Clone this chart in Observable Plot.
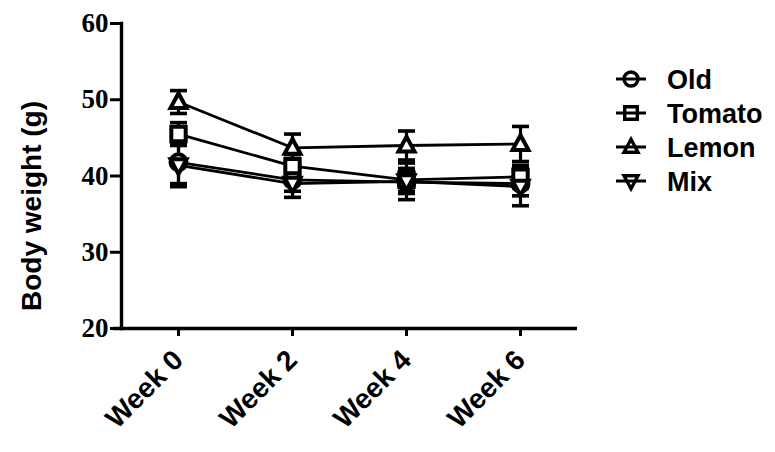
<!DOCTYPE html>
<html><head><meta charset="utf-8">
<script src="https://cdn.jsdelivr.net/npm/d3@7"></script>
<script src="https://cdn.jsdelivr.net/npm/@observablehq/plot@0.6"></script>
<style>
body{margin:0;background:#fff;}
#wrap{position:relative;width:775px;height:452px;overflow:hidden;}
#legend{position:absolute;left:0;top:0;}
</style></head><body><div id="wrap"></div>
<script>
// ---- data ----
const weeks = ["Week 0", "Week 2", "Week 4", "Week 6"];
const seriesNames = ["Old", "Tomato", "Lemon", "Mix"];
const oldMean = [41.8, 39.5, 39.2, 39.0];
const oldErr = [2.8, 1.5, 1.5, 1.6];
const tomatoMean = [45.5, 41.3, 39.5, 39.9];
const tomatoErr = [1.5, 1.5, 1.5, 1.5];
const lemonMean = [49.7, 43.7, 44.0, 44.2];
const lemonErr = [1.5, 1.8, 1.9, 2.3];
const mixMean = [41.4, 39.0, 39.3, 38.6];
const mixErr = [2.8, 1.8, 2.4, 2.5];
const yTicks = [20, 30, 40, 50, 60];

const means = [oldMean, tomatoMean, lemonMean, mixMean];
const errs = [oldErr, tomatoErr, lemonErr, mixErr];
const rows = [];
seriesNames.forEach((s, i) => weeks.forEach((w, j) => rows.push({
  series: s, week: w, mean: means[i][j], lo: means[i][j] - errs[i][j], hi: means[i][j] + errs[i][j]
})));
const caps = rows.flatMap(d => [{series: d.series, week: d.week, y: d.lo}, {series: d.series, week: d.week, y: d.hi}]);

// ---- custom symbols ----
const rad = size => Math.sqrt(size / Math.PI);
const symCircle = {draw(c, size){ const r = rad(size); c.moveTo(r, 0); c.arc(0, 0, r, 0, 2 * Math.PI); c.closePath(); }};
const symSquare = {draw(c, size){ const s = rad(size) * 0.9; c.rect(-s, -s, 2 * s, 2 * s); }};
const symTriUp = {draw(c, size){ const r = rad(size); c.moveTo(0, -1.1 * r); c.lineTo(1.0 * r, 0.75 * r); c.lineTo(-1.0 * r, 0.75 * r); c.closePath(); }};
const symTriDown = {draw(c, size){ const r = rad(size); c.moveTo(0, 1.1 * r); c.lineTo(1.0 * r, -0.75 * r); c.lineTo(-1.0 * r, -0.75 * r); c.closePath(); }};
const symCap = {draw(c, size){ const r = rad(size); c.moveTo(-r, 0); c.lineTo(r, 0); }};
const symbolRange = [symCircle, symSquare, symTriUp, symTriDown];

const chart = Plot.plot({
  width: 775,
  height: 452,
  marginLeft: 121,
  marginRight: 198,
  marginTop: 23,
  marginBottom: 124,
  style: {background: "#fff", color: "#000"},
  x: {type: "point", domain: weeks, padding: 0.5, label: null},
  y: {domain: [20, 60], label: null},
  symbol: {domain: seriesNames, range: symbolRange},
  marks: [
    Plot.ruleY([20], {strokeWidth: 3.4, insetLeft: -8}),
    Plot.frame({anchor: "left", strokeWidth: 3.4}),
    Plot.axisY({ticks: yTicks, tickSize: 11, tickPadding: 2, strokeWidth: 3, fontSize: 27, fontWeight: "bold", fontFamily: "Liberation Serif", label: null}),
    Plot.axisX({tickSize: 8, tickPadding: 0, strokeWidth: 3, label: null, text: null}),
    Plot.axisX({tickSize: 0, tickPadding: 27, dx: 0, tickRotate: -45, fontSize: 28, fontWeight: "bold", fontFamily: "Liberation Sans", label: null}),
    Plot.text(["Body weight (g)"], {frameAnchor: "left", textAnchor: "middle", rotate: -90, dx: -89, dy: 30, fontSize: 28, fontWeight: "bold", fontFamily: "Liberation Sans", fill: "#000"}),
    Plot.line(rows, {x: "week", y: "mean", z: "series", stroke: "#000", strokeWidth: 2.8}),
    Plot.ruleX(rows, {x: "week", y1: "lo", y2: "hi", stroke: "#000", strokeWidth: 3.2}),
    Plot.dot(caps, {x: "week", y: "y", symbol: () => symCap, r: 8.5, stroke: "#000", strokeWidth: 3.6, fill: "none"}),
    Plot.dot(rows, {x: "week", y: "mean", symbol: "series", r: 8, stroke: "#000", strokeWidth: 4, fill: "#fff"})
  ]
});

const wrap = document.getElementById("wrap");
wrap.appendChild(chart);

// ---- legend ----
const leg = d3.select(wrap).append("svg").attr("id", "legend").attr("width", 775).attr("height", 452);
const g = leg.selectAll("g").data(seriesNames).join("g")
  .attr("transform", (d, i) => `translate(631,${79 + i * 34})`);
g.append("line").attr("x1", -15).attr("x2", 15).attr("stroke", "#000").attr("stroke-width", 3);
g.append("path").attr("d", (d, i) => { const p = d3.path(); symbolRange[i].draw(p, Math.PI * 49); return p.toString(); })
  .attr("fill", "#fff").attr("fill-opacity", 0).attr("stroke", "#000").attr("stroke-width", 3.4);
g.append("text").text(d => d).attr("x", 36).attr("dy", "0.36em")
  .attr("font-family", "Liberation Sans").attr("font-weight", "bold").attr("font-size", 27).attr("fill", "#000");
</script>
</body></html>
